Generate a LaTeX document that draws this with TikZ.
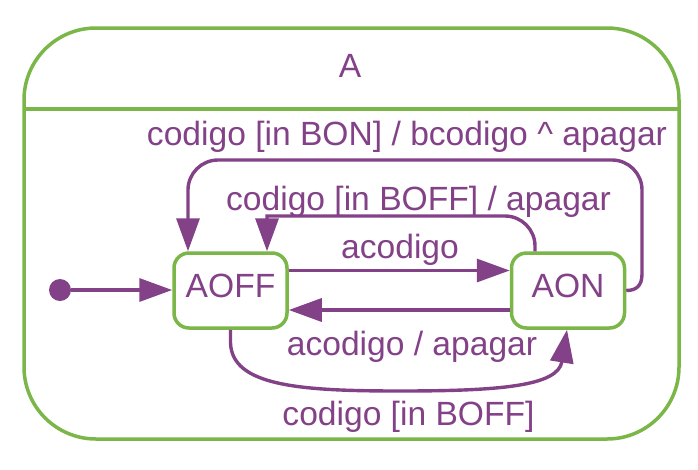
\documentclass[tikz,border=0pt]{standalone}
\usepackage{fontspec}
\setmainfont{Liberation Sans}
\usetikzlibrary{arrows.meta}
\definecolor{grn}{HTML}{7AB648}
\definecolor{pur}{HTML}{834187}
\tikzset{
  stbox/.style={draw=grn, line width=3.5pt, rounded corners=15pt, fill=white,
    minimum width=113pt, minimum height=75pt, inner sep=0pt, text=pur,
    font=\fontsize{33.6}{40}\selectfont, text height=18pt, text depth=5pt},
  lbl/.style={text=pur, font=\fontsize{33.6}{40}\selectfont, anchor=base, inner sep=0pt},
  arr/.style={draw=pur, line width=3.4pt, -{Triangle[length=33pt,width=23pt]}},
}
\begin{document}
\begin{tikzpicture}[x=1pt,y=-1pt]
\useasboundingbox (0,0) rectangle (698,469);
% outer composite state
\draw[grn, line width=3.5pt, rounded corners=72pt] (24,28) rectangle (679,439);
\coordinate (divl) at (24,109);
\coordinate (divr) at (679,109);
\draw[grn, line width=3.5pt] (divl) -- (divr);
\node[lbl] (ttl) at (350,77) {A};
% states
\node[stbox] (aoff) at (230.5,290.5) {AOFF};
\node[stbox] (aon) at (568,290.5) {AON};
% initial
\node[circle, fill=pur, minimum size=22pt, inner sep=0pt] (init) at (60,290) {};
\draw[arr] (init) -- (aoff.west |- init);
% acodigo
\draw[arr] ([yshift=20pt]aoff.east) -- ([yshift=20pt]aon.west);
\node[lbl] (l1) at (400,258) {acodigo};
% acodigo / apagar
\draw[arr] ([yshift=-19.5pt]aon.west) -- ([yshift=-19.5pt]aoff.east);
\node[lbl] (l2) at (412,355) {acodigo / apagar};
% codigo [in BOFF] / apagar
\draw[arr] ([xshift=-33pt]aon.north) -- (535,246) .. controls (535,229.5) and (521.5,216) .. (505,216)
  -- (267,216) -- ([xshift=36.5pt]aoff.north);
\node[lbl] (l3) at (418.5,210) {codigo [in BOFF] / apagar};
% codigo [in BON] / bcodigo ^ apagar
\draw[arr] (aon.east) .. controls (636,290.5) and (642,286) .. (642,274)
  -- (642,190) .. controls (642,173.5) and (628.5,160) .. (612,160)
  -- (218,160) .. controls (201.5,160) and (188,173.5) .. (188,190)
  -- ([xshift=-42.5pt]aoff.north);
\node[lbl] (l4) at (407,145) {codigo [in BON] / bcodigo \^{} apagar};
% codigo [in BOFF]
\draw[arr] (aoff.south) -- (230.5,343) .. controls (232,386) and (300,391) .. (400,391)
  .. controls (500,391) and (558,386) .. ([xshift=-1pt]aon.south);
\node[lbl] (l5) at (408.5,425) {codigo [in BOFF]};
\end{tikzpicture}
\end{document}
